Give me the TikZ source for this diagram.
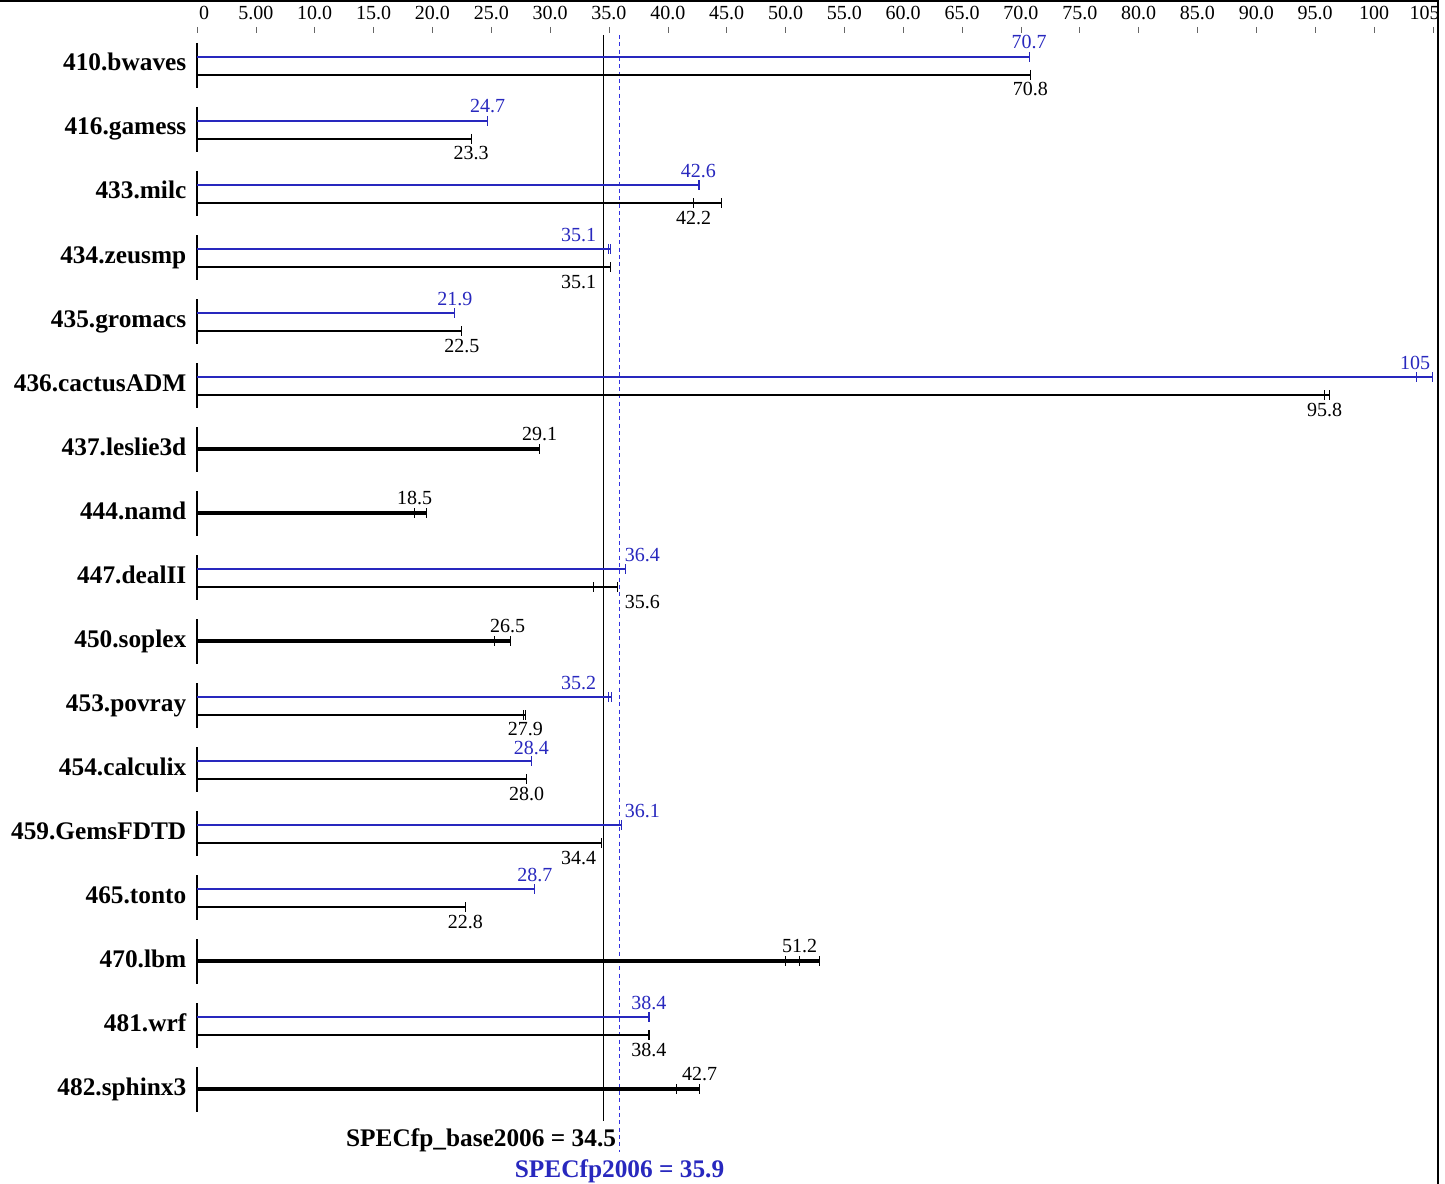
\documentclass[tikz,border=0pt]{standalone}
\usepackage{fontspec}
\setmainfont{Liberation Serif}
\definecolor{peakblue}{RGB}{40,40,190}
\definecolor{meanblue}{RGB}{50,50,225}
% one result bar: style, y, end value, run ticks
\newcommand{\specbar}[4]{%
  \draw[#1] (0,#2) -- (#3,#2);
  \foreach \t in {#4} \draw[#1,line width=0.8pt] (\t,#2-5) -- (\t,#2+5);
}
\begin{document}
\begin{tikzpicture}
	[	x=0.75pt,y=-0.75pt,
		bench/.style={anchor=base east,font=\fontsize{19}{19}\selectfont\bfseries},
		val/.style={anchor=base,font=\fontsize{15}{15}\selectfont},
		peakval/.style={val,text=peakblue},
		basebar/.style={line width=1.5pt},
		peakbar/.style={line width=1.5pt,draw=peakblue},
		onebar/.style={line width=2.6pt},
		score/.style={anchor=base,font=\fontsize{19}{19}\selectfont\bfseries}
	]
\useasboundingbox (0,0) rectangle (1445,1184);
\draw[line width=1.5pt] (0,1) -- (1438,1) -- (1438,1184);

% benchmark names and row axes
\foreach \name/\lbl [count=\i from 0] in {bwaves/410.bwaves,gamess/416.gamess,milc/433.milc,
	zeusmp/434.zeusmp,gromacs/435.gromacs,cactus/436.cactusADM,leslie/437.leslie3d,
	namd/444.namd,dealii/447.dealII,soplex/450.soplex,povray/453.povray,
	calculix/454.calculix,gems/459.GemsFDTD,tonto/465.tonto,lbm/470.lbm,
	wrf/481.wrf,sphinx/482.sphinx3}{
	\node[bench] (\name) at (191,71+64*\i) {\lbl};
	\draw[line width=1.5pt] (197,43+64*\i) -- (197,88+64*\i);
}

\begin{scope}[shift={(197,0)},x=8.8275pt]
% scale
\foreach \v/\t in {5/5.00,10/10.0,15/15.0,20/20.0,25/25.0,30/30.0,35/35.0,40/40.0,
	45/45.0,50/50.0,55/55.0,60/60.0,65/65.0,70/70.0,75/75.0,80/80.0,85/85.0,90/90.0,95/95.0,100/100}{
	\draw[gray!80!black] (\v,27) -- (\v,33);
	\node[val] (tick\v) at (\v,20) {\t};
}
\draw[gray!80!black] (0,27) -- (0,33);
\node[val] (tick0) at (0.6,20) {0};
\draw[gray!80!black] (105,27) -- (105,33);
\node[val] (tick105) at (104.3,20) {105};

% mean lines
\draw[line width=0.8pt] (34.5,35) -- (34.5,1121);
\draw[draw=meanblue,line width=1.3pt,dash pattern=on 3pt off 2.5pt] (35.9,35) -- (35.9,1152);

% 410.bwaves
\specbar{peakbar}{57}{70.7}{70.7}
\specbar{basebar}{75}{70.8}{70.8}
\node[peakval] (pbwaves) at (70.7,49) {70.7};
\node[val] (bbwaves) at (70.8,96) {70.8};
% 416.gamess
\specbar{peakbar}{121}{24.7}{24.7}
\specbar{basebar}{139}{23.3}{23.3}
\node[peakval] (pgamess) at (24.7,113) {24.7};
\node[val] (bgamess) at (23.3,160) {23.3};
% 433.milc
\specbar{peakbar}{185}{42.7}{42.6,42.7}
\specbar{basebar}{203}{44.6}{42.2,44.6}
\node[peakval] (pmilc) at (42.6,177) {42.6};
\node[val] (bmilc) at (42.2,224) {42.2};
% 434.zeusmp
\specbar{peakbar}{249}{35.1}{35.0,35.1}
\specbar{basebar}{267}{35.1}{35.1}
\node[peakval,anchor=base east] (pzeusmp) at (34.3,241) {35.1};
\node[val,anchor=base east] (bzeusmp) at (34.3,288) {35.1};
% 435.gromacs
\specbar{peakbar}{313}{21.9}{21.9}
\specbar{basebar}{331}{22.5}{22.5}
\node[peakval] (pgromacs) at (21.9,305) {21.9};
\node[val] (bgromacs) at (22.5,352) {22.5};
% 436.cactusADM
\specbar{peakbar}{377}{105}{103.6,105}
\specbar{basebar}{395}{96.2}{95.8,96.2}
\node[peakval] (pcactus) at (103.5,369) {105};
\node[val] (bcactus) at (95.8,416) {95.8};
% 437.leslie3d
\specbar{onebar}{449}{29.1}{29.1}
\node[val] (bleslie) at (29.1,440) {29.1};
% 444.namd
\specbar{onebar}{513}{19.5}{18.5,19.5}
\node[val] (bnamd) at (18.5,504) {18.5};
% 447.dealII
\specbar{peakbar}{569}{36.4}{36.4}
\specbar{basebar}{587}{35.7}{33.7,35.7}
\node[peakval,anchor=base west] (pdealii) at (35.95,561) {36.4};
\node[val,anchor=base west] (bdealii) at (35.95,608) {35.6};
% 450.soplex
\specbar{onebar}{641}{26.6}{25.3,26.6}
\node[val] (bsoplex) at (26.4,632) {26.5};
% 453.povray
\specbar{peakbar}{697}{35.2}{34.95,35.2}
\specbar{basebar}{715}{27.9}{27.7,27.9}
\node[peakval,anchor=base east] (ppovray) at (34.3,689) {35.2};
\node[val] (bpovray) at (27.9,735) {27.9};
% 454.calculix
\specbar{peakbar}{761}{28.4}{28.4}
\specbar{basebar}{779}{28.0}{28.0}
\node[peakval] (pcalculix) at (28.4,754) {28.4};
\node[val] (bcalculix) at (28.0,800) {28.0};
% 459.GemsFDTD
\specbar{peakbar}{825}{36.1}{36.1}
\specbar{basebar}{843}{34.4}{34.4}
\node[peakval,anchor=base west] (pgems) at (35.95,817) {36.1};
\node[val,anchor=base east] (bgems) at (34.3,864) {34.4};
% 465.tonto
\specbar{peakbar}{889}{28.7}{28.7}
\specbar{basebar}{907}{22.8}{22.8}
\node[peakval] (ptonto) at (28.7,881) {28.7};
\node[val] (btonto) at (22.8,928) {22.8};
% 470.lbm
\specbar{onebar}{961}{52.9}{50.0,51.2,52.9}
\node[val] (blbm) at (51.2,952) {51.2};
% 481.wrf
\specbar{peakbar}{1017}{38.4}{38.4}
\specbar{basebar}{1035}{38.4}{38.4}
\node[peakval] (pwrf) at (38.4,1009) {38.4};
\node[val] (bwrf) at (38.4,1056) {38.4};
% 482.sphinx3
\specbar{onebar}{1089}{42.7}{40.7,42.7}
\node[val] (bsphinx) at (42.7,1080) {42.7};

% overall scores
\node[score,anchor=base east] (basescore) at (36.0,1146) {SPECfp\_base2006 = 34.5};
\node[score,text=peakblue] (peakscore) at (35.9,1177) {SPECfp2006 = 35.9};
\end{scope}
\end{tikzpicture}
\end{document}
